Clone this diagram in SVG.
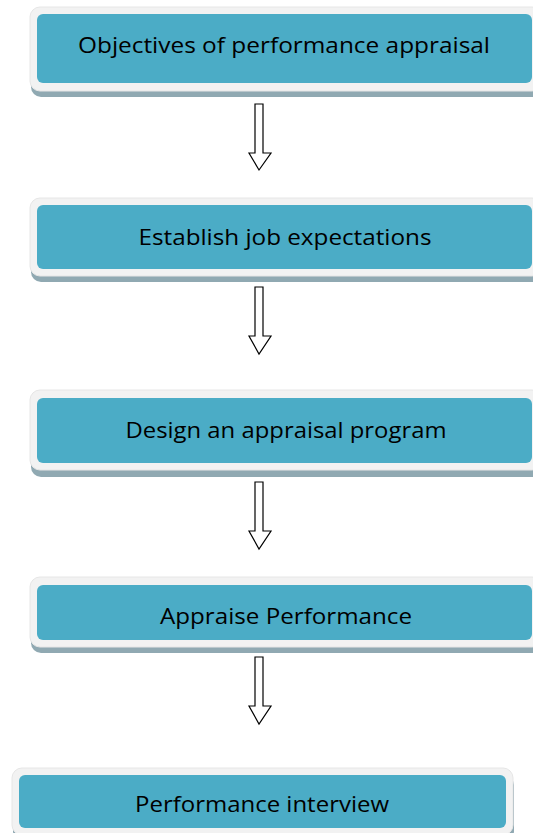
<svg xmlns="http://www.w3.org/2000/svg" width="533" height="833" viewBox="0 0 533 833">
  <style>
    .shadow { fill: #90a9b2; }
    .frame { fill: #f2f2f2; stroke: #e6e6e6; stroke-width: 1; }
    .panel { fill: #4bacc6; }
    .label { font-family: "Open Sans", "Liberation Sans", sans-serif; font-size: 21.5px; fill: #000000; text-anchor: middle; }
    .arrow { fill: #ffffff; stroke: #000000; stroke-width: 1.2; stroke-linejoin: miter; }
  </style>
  <rect width="533" height="833" fill="#ffffff"/>

  <g id="node-objectives">
    <rect class="shadow" x="31" y="14" width="512" height="83" rx="10"/>
    <rect class="frame" x="30" y="7" width="512" height="84" rx="10"/>
    <rect class="panel" x="37" y="14" width="495" height="69" rx="6"/>
    <text class="label" x="284" y="53" textLength="412" lengthAdjust="spacingAndGlyphs">Objectives of performance appraisal</text>
  </g>

  <g id="node-expectations">
    <rect class="shadow" x="31" y="205" width="512" height="77" rx="10"/>
    <rect class="frame" x="30" y="198" width="512" height="78" rx="10"/>
    <rect class="panel" x="37" y="205" width="495" height="64" rx="6"/>
    <text class="label" x="285" y="245" textLength="293" lengthAdjust="spacingAndGlyphs">Establish job expectations</text>
  </g>

  <g id="node-design">
    <rect class="shadow" x="31" y="397" width="512" height="80" rx="10"/>
    <rect class="frame" x="30" y="390" width="512" height="80" rx="10"/>
    <rect class="panel" x="37" y="398" width="495" height="65" rx="6"/>
    <text class="label" x="286" y="438" textLength="321" lengthAdjust="spacingAndGlyphs">Design an appraisal program</text>
  </g>

  <g id="node-appraise">
    <rect class="shadow" x="31" y="584" width="512" height="69" rx="10"/>
    <rect class="frame" x="30" y="577" width="512" height="70" rx="10"/>
    <rect class="panel" x="37" y="585" width="495" height="55" rx="6"/>
    <text class="label" x="286" y="624" textLength="252" lengthAdjust="spacingAndGlyphs">Appraise Performance</text>
  </g>

  <g id="node-interview">
    <rect class="shadow" x="13" y="775" width="501" height="66" rx="10"/>
    <rect class="frame" x="12" y="768" width="501" height="67" rx="10"/>
    <rect class="panel" x="19" y="775" width="487" height="53" rx="6"/>
    <text class="label" x="262" y="812" textLength="254" lengthAdjust="spacingAndGlyphs">Performance interview</text>
  </g>

  <g id="connectors">
    <polygon class="arrow" points="255,104 263,104 263,153 271,153 259,170 249,153 255,153"/>
    <polygon class="arrow" points="255,287 263,287 263,336 271,336 259,354 249,336 255,336"/>
    <polygon class="arrow" points="255,482 263,482 263,531 271,531 259,549 249,531 255,531"/>
    <polygon class="arrow" points="255,657 263,657 263,706 271,706 259,724 249,706 255,706"/>
  </g>
</svg>
